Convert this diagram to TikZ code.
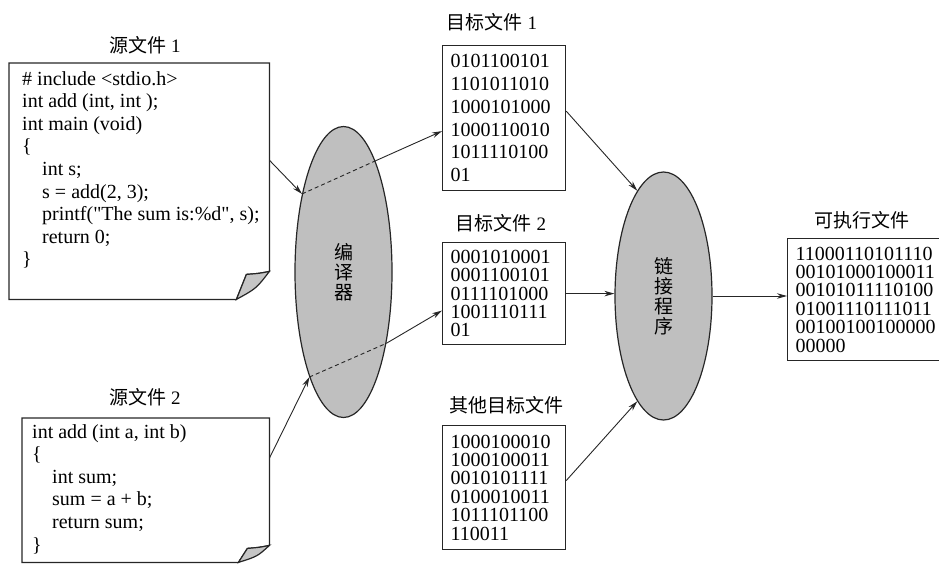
\documentclass[tikz,border=0pt]{standalone}
\usepackage{fontspec}
\setmainfont{Liberation Serif}[Ligatures=TeXOff]
\newfontfamily\cjk{Noto Sans CJK SC}
\usetikzlibrary{arrows.meta,shapes.geometric,calc}
\begin{document}
\begin{tikzpicture}[x=1pt,y=-1pt,
  boxline/.style={line width=1.2pt, draw=black!85},
  code/.style={font=\fontsize{20}{22.6}\selectfont, align=left, inner sep=0pt, anchor=north west},
  binbox/.style={boxline, draw, anchor=north west, inner xsep=8pt, inner ysep=0pt,
     minimum width=123pt, text width=107pt, align=left, font=\fontsize{20}{18.4}\selectfont},
  captext/.style={font=\fontsize{19}{19}\selectfont},
  ell/.style={ellipse, boxline, draw, fill=gray!50, minimum width=97pt, inner sep=0pt,
     font=\cjk\fontsize{19}{20}\selectfont, align=center},
  arr/.style={-{Stealth[length=10pt,width=5.5pt]}, line width=0.9pt, draw=black!85},
  dashline/.style={dashed, dash pattern=on 4pt off 3pt, line width=0.9pt, draw=black!85},
  fold/.style={boxline, fill=gray!45}
]
\useasboundingbox (0,0) rectangle (939,563);

% ---------- source file 1 ----------
\node[captext] (cap1) at (145,45) {{\cjk 源文件} 1};
\node[minimum width=260pt, minimum height=236pt, inner sep=0pt, anchor=north west] (src1) at (9,63) {};
\draw[boxline] (src1.north west) -- (src1.north east) -- ($(src1.south east)+(0,-28)$)
  .. controls ($(src1.south east)+(-10,-26)$) .. ($(src1.south east)+(-23,-25)$)
  -- ($(src1.south east)+(-33,0)$) -- (src1.south west) -- cycle;
\filldraw[fold] ($(src1.south east)+(0,-28)$)
  .. controls ($(src1.south east)+(-10,-26)$) .. ($(src1.south east)+(-23,-25)$)
  -- ($(src1.south east)+(-33,0)$)
  .. controls ($(src1.south east)+(-13,-11)$) .. ($(src1.south east)+(0,-28)$) -- cycle;
\node[code] (src1txt) at (22,71) {\# include <stdio.h>\\
int add (int, int );\\
int main (void)\\
\{\\
\hspace*{20pt}int s;\\
\hspace*{20pt}s = add(2, 3);\\
\hspace*{20pt}printf("The sum is:\%d", s);\\
\hspace*{20pt}return 0;\\
\}};

% ---------- source file 2 ----------
\node[captext] (cap2) at (145,397) {{\cjk 源文件} 2};
\node[minimum width=247pt, minimum height=144pt, inner sep=0pt, anchor=north west] (src2) at (22,418) {};
\draw[boxline] (src2.north west) -- (src2.north east) -- ($(src2.south east)+(0,-17)$)
  .. controls ($(src2.south east)+(-10,-15)$) .. ($(src2.south east)+(-22,-14)$)
  -- ($(src2.south east)+(-31,0)$) -- (src2.south west) -- cycle;
\filldraw[fold] ($(src2.south east)+(0,-17)$)
  .. controls ($(src2.south east)+(-10,-15)$) .. ($(src2.south east)+(-22,-14)$)
  -- ($(src2.south east)+(-31,0)$)
  .. controls ($(src2.south east)+(-12,-6)$) .. ($(src2.south east)+(0,-17)$) -- cycle;
\node[code] (src2txt) at (32,424) {int add (int a, int b)\\
\{\\
\hspace*{20pt}int sum;\\
\hspace*{20pt}sum = a + b;\\
\hspace*{20pt}return sum;\\
\}};

% ---------- compiler and linker ----------
\node[ell, minimum height=291pt] (comp) at (343.5,272) {编\\译\\器};
\node[ell, minimum height=248pt] (link) at (663.5,296) {链\\接\\程\\序};

% ---------- object files ----------
\node[captext] (cap3) at (492,22) {{\cjk 目标文件} 1};
\node[binbox, minimum height=145pt, font=\fontsize{20}{22.7}\selectfont] (obj1) at (442,45)
 {0101100101\\1101011010\\1000101000\\1000110010\\1011110100\\01};

\node[captext] (cap4) at (501,223) {{\cjk 目标文件} 2};
\node[binbox, minimum height=102pt] (obj2) at (442,242)
 {0001010001\\0001100101\\0111101000\\1001110111\\01};

\node[captext] (cap5) at (506,405) {\cjk 其他目标文件};
\node[binbox, minimum height=124pt] (obj3) at (442,425)
 {1000100010\\1000100011\\0010101111\\0100010011\\1011101100\\110011};

% ---------- executable ----------
\node[captext] (cap6) at (862,220) {\cjk 可执行文件};
\node[binbox, minimum height=122pt, minimum width=180pt, text width=164pt] (exe) at (787,238)
 {11000110101110\\00101000100011\\00101011110100\\01001110111011\\00100100100000\\00000};

% ---------- connectors ----------
\draw[arr] ($(src1.east)+(0,-21)$) -- (comp.118);
\draw[dashline] (comp.118) -- (comp.74);
\draw[arr] (comp.74) -- ($(obj1.west)+(0,13)$);

\draw[arr] ($(src2.east)+(0,-32)$) -- (comp.252);
\draw[dashline] (comp.252) -- (comp.301);
\draw[arr] (comp.301) -- ($(obj2.west)+(0,17)$);

\draw[arr] ($(obj1.east)+(0,-7)$) -- (link.104);
\draw[arr] (obj2.east) -- (obj2.east -| link.west);
\draw[arr] ($(obj3.east)+(0,-7)$) -- (link.256);
\draw[arr] (link.east) -- (link.east -| exe.west);
\end{tikzpicture}
\end{document}
